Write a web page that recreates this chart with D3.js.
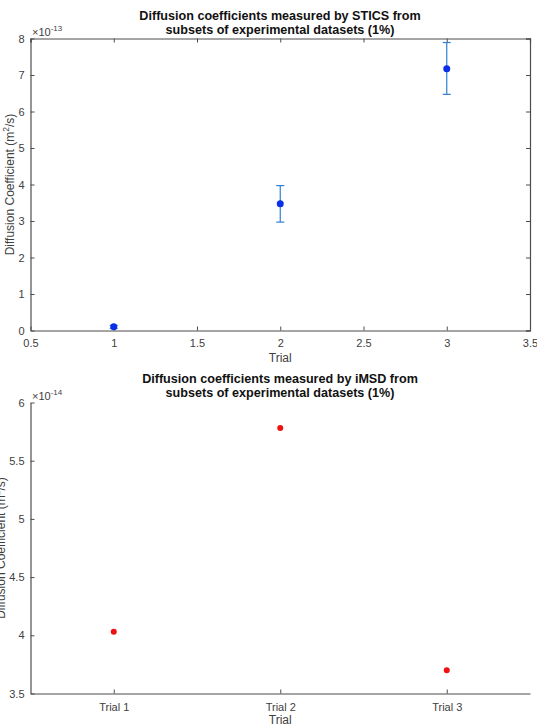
<!DOCTYPE html>
<html>
<head>
<meta charset="utf-8">
<script src="https://cdn.jsdelivr.net/npm/d3@7"></script>
<style>
  body { margin: 0; background: #fff; }
  text { font-family: "Liberation Sans", Arial, sans-serif; }
</style>
</head>
<body>
<div id="chart"></div>
<script>
// STICS (top plot), values in m^2/s
const sticsTrials = [1, 2, 3];
const sticsMean = [0.10e-13, 3.47e-13, 7.17e-13];
const sticsErrLow = [0.04e-13, 0.50e-13, 0.70e-13];
const sticsErrHigh = [0.04e-13, 0.50e-13, 0.72e-13];
const sticsXTicks = [0.5, 1, 1.5, 2, 2.5, 3, 3.5];
const sticsYTicks = [0, 1, 2, 3, 4, 5, 6, 7, 8];

// iMSD (bottom plot)
const imsdLabels = ["Trial 1", "Trial 2", "Trial 3"];
const imsdMean = [4.03e-14, 5.78e-14, 3.70e-14];
const imsdYTicks = [3.5, 4, 4.5, 5, 5.5, 6];

const width = 537;
const height = 725;
const axisColor = "#4d4d4d";
const textColor = "#404040";

const svg = d3
  .select("#chart")
  .append("svg")
  .attr("width", width)
  .attr("height", height);

function exponentLabel(g, x, y, exp) {
  const t = g
    .append("text")
    .attr("x", x)
    .attr("y", y)
    .attr("fill", textColor)
    .style("font-size", "11px");
  t.append("tspan").text("\u00d710");
  t.append("tspan")
    .attr("dy", -5)
    .style("font-size", "8px")
    .text(exp);
}

function title(g, cx, y, lines) {
  lines.forEach((l, i) => {
    g.append("text")
      .attr("x", cx)
      .attr("y", y + i * 14.5)
      .attr("text-anchor", "middle")
      .attr("fill", "#111")
      .style("font-size", "12.6px")
      .style("font-weight", "bold")
      .text(l);
  });
}

function yLabel(g, x, y) {
  const t = g
    .append("text")
    .attr("transform", `translate(${x},${y}) rotate(-90)`)
    .attr("text-anchor", "middle")
    .attr("fill", textColor)
    .style("font-size", "12px");
  t.append("tspan").text("Diffusion Coefficient (m");
  t.append("tspan").attr("dy", -4.5).style("font-size", "8.5px").text("2");
  t.append("tspan").attr("dy", 4.5).text("/s)");
}

function styleAxis(a) {
  a.select(".domain").attr("stroke", axisColor).attr("stroke-width", 1.2);
  a.selectAll(".tick line").attr("stroke", axisColor);
  a.selectAll(".tick text")
    .attr("fill", textColor)
    .style("font-size", "11px")
    .style("font-family", "'Liberation Sans', Arial, sans-serif");
}

// ---------- top plot ----------
const m1 = { left: 30.5, right: 530, top: 38.5, bottom: 330.5 };
const x1 = d3.scaleLinear().domain([0.5, 3.5]).range([m1.left, m1.right]);
const y1 = d3.scaleLinear().domain([0, 8e-13]).range([m1.bottom, m1.top]);
const g1 = svg.append("g");

title(g1, 280, 19.5, [
  "Diffusion coefficients measured by STICS from",
  "subsets of experimental datasets (1%)",
]);

// box lines (top/right) with inward ticks
const ax1Top = g1
  .append("g")
  .attr("transform", `translate(0,${m1.top})`)
  .call(d3.axisTop(x1).tickValues(sticsXTicks).tickSize(-4).tickFormat(""));
styleAxis(ax1Top);
const ax1Right = g1
  .append("g")
  .attr("transform", `translate(${m1.right},0)`)
  .call(d3.axisRight(y1).tickValues(sticsYTicks.map((d) => d * 1e-13)).tickSize(-4).tickFormat(""));
styleAxis(ax1Right);

const ax1Bottom = g1
  .append("g")
  .attr("transform", `translate(0,${m1.bottom})`)
  .call(
    d3.axisBottom(x1)
      .tickValues(sticsXTicks)
      .tickSizeInner(-4)
      .tickSizeOuter(0)
      .tickPadding(9)
      .tickFormat((d) => d3.format("")(d))
  );
styleAxis(ax1Bottom);

const ax1Left = g1
  .append("g")
  .attr("transform", `translate(${m1.left},0)`)
  .call(
    d3.axisLeft(y1)
      .tickValues(sticsYTicks.map((d) => d * 1e-13))
      .tickSizeInner(-4)
      .tickSizeOuter(0)
      .tickPadding(6)
      .tickFormat((d) => Math.round(d / 1e-13))
  );
styleAxis(ax1Left);

exponentLabel(g1, 32, 36, "-13");
yLabel(g1, 13.5, (m1.top + m1.bottom) / 2);
g1.append("text")
  .attr("x", (m1.left + m1.right) / 2)
  .attr("y", 361.5)
  .attr("text-anchor", "middle")
  .attr("fill", textColor)
  .style("font-size", "12px")
  .text("Trial");

const sticsData = sticsTrials.map((t, i) => ({
  x: t,
  y: sticsMean[i],
  lo: sticsMean[i] - sticsErrLow[i],
  hi: sticsMean[i] + sticsErrHigh[i],
}));

const errColor = "#2f7fd0";
const eb = g1.append("g").selectAll("g").data(sticsData).enter().append("g");
eb.append("line")
  .attr("x1", (d) => x1(d.x))
  .attr("x2", (d) => x1(d.x))
  .attr("y1", (d) => y1(d.lo))
  .attr("y2", (d) => y1(d.hi))
  .attr("stroke", errColor)
  .attr("stroke-width", 1.2);
["lo", "hi"].forEach((k) => {
  eb.append("line")
    .attr("x1", (d) => x1(d.x) - 4)
    .attr("x2", (d) => x1(d.x) + 4)
    .attr("y1", (d) => y1(d[k]))
    .attr("y2", (d) => y1(d[k]))
    .attr("stroke", errColor)
    .attr("stroke-width", 1.2);
});
eb.append("circle")
  .attr("cx", (d) => x1(d.x))
  .attr("cy", (d) => y1(d.y))
  .attr("r", 3.5)
  .attr("fill", "#0a2fe8");

// ---------- bottom plot ----------
const m2 = { left: 30.5, right: 530, top: 402.5, bottom: 693.5 };
const x2 = d3.scaleLinear().domain([0.5, 3.5]).range([m2.left, m2.right]);
const y2 = d3.scaleLinear().domain([3.5e-14, 6e-14]).range([m2.bottom, m2.top]);
const g2 = svg.append("g");

title(g2, 280, 382.5, [
  "Diffusion coefficients measured by iMSD from",
  "subsets of experimental datasets (1%)",
]);

const ax2Bottom = g2
  .append("g")
  .attr("transform", `translate(0,${m2.bottom})`)
  .call(
    d3.axisBottom(x2)
      .tickValues([1, 2, 3])
      .tickSizeInner(-4)
      .tickSizeOuter(0)
      .tickPadding(10)
      .tickFormat((d) => imsdLabels[d - 1])
  );
styleAxis(ax2Bottom);

const ax2Left = g2
  .append("g")
  .attr("transform", `translate(${m2.left},0)`)
  .call(
    d3.axisLeft(y2)
      .tickValues(imsdYTicks.map((d) => d * 1e-14))
      .tickSizeInner(-4)
      .tickSizeOuter(0)
      .tickPadding(6)
      .tickFormat((d) => d3.format("")(+(d / 1e-14).toFixed(1)))
  );
styleAxis(ax2Left);

exponentLabel(g2, 32, 400, "-14");
yLabel(g2, 4.5, (m2.top + m2.bottom) / 2);
g2.append("text")
  .attr("x", (m2.left + m2.right) / 2)
  .attr("y", 723.5)
  .attr("text-anchor", "middle")
  .attr("fill", textColor)
  .style("font-size", "12px")
  .text("Trial");

g2.append("g")
  .selectAll("circle")
  .data(imsdMean)
  .enter()
  .append("circle")
  .attr("cx", (d, i) => x2(i + 1))
  .attr("cy", (d) => y2(d))
  .attr("r", 3)
  .attr("fill", "#ee1111");
</script>
</body>
</html>
